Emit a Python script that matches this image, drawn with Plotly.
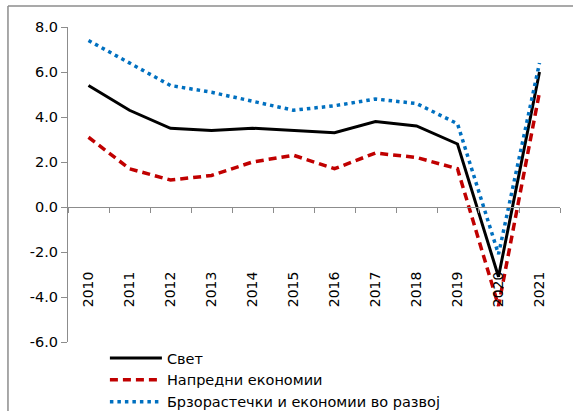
import plotly.graph_objects as go

years = ["2010", "2011", "2012", "2013", "2014", "2015", "2016", "2017", "2018", "2019", "2020", "2021"]
world = [5.4, 4.3, 3.5, 3.4, 3.5, 3.4, 3.3, 3.8, 3.6, 2.8, -3.1, 6.0]
advanced = [3.1, 1.7, 1.2, 1.4, 2.0, 2.3, 1.7, 2.4, 2.2, 1.7, -4.4, 5.1]
emerging = [7.4, 6.4, 5.4, 5.1, 4.7, 4.3, 4.5, 4.8, 4.6, 3.7, -2.1, 6.4]
names = ["Свет", "Напредни економии", "Брзорастечки и економии во развој"]
y_ticks = [-6, -4, -2, 0, 2, 4, 6, 8]
y_tick_text = ["-6.0", "-4.0", "-2.0", "0.0", "2.0", "4.0", "6.0", "8.0"]

FONT = "DejaVu Sans"
GRAY = "#8c8c8c"

fig = go.Figure()
fig.add_trace(go.Scatter(x=years, y=world, name=names[0], mode="lines",
                         line=dict(color="#000000", width=3)))
fig.add_trace(go.Scatter(x=years, y=advanced, name=names[1], mode="lines",
                         line=dict(color="#C00000", width=3.5, dash="8px,5px")))
fig.add_trace(go.Scatter(x=years, y=emerging, name=names[2], mode="lines",
                         line=dict(color="#0070C0", width=3.5, dash="3.5px,4px")))

fig.update_layout(
    width=573, height=411,
    margin=dict(l=68, r=13, t=27, b=69, autoexpand=False),
    paper_bgcolor="white", plot_bgcolor="white",
    font=dict(family=FONT, size=14, color="#000000"),
    showlegend=True,
    legend=dict(x=0.075, y=0.0, xanchor="left", yanchor="top",
                bgcolor="rgba(0,0,0,0)", font=dict(size=14.5, family=FONT),
                tracegroupgap=0, itemwidth=52),
    xaxis=dict(type="category", range=[-0.5, 11.5], anchor="free", position=6/14,
               automargin=False,
               showline=True, linecolor=GRAY, linewidth=1, showgrid=False,
               ticks="outside", ticklen=5, tickcolor=GRAY, tickson="boundaries",
               tickangle=-90, ticklabelstandoff=58,
               tickfont=dict(size=14, family=FONT)),
    yaxis=dict(range=[-6, 8], domain=[0, 1], tickvals=y_ticks, ticktext=y_tick_text,
               automargin=False,
               showline=True, linecolor=GRAY, linewidth=1, showgrid=False,
               zeroline=False, ticks="outside", ticklen=6, tickcolor=GRAY,
               tickfont=dict(size=14.5, family=FONT)),
    shapes=[
        dict(type="line", xref="paper", yref="paper", x0=-0.122, x1=1.1, y0=1.0667, y1=1.0667,
             line=dict(color=GRAY, width=1.5)),
        dict(type="line", xref="paper", yref="paper", x0=-0.122, x1=-0.122, y0=-0.4, y1=1.0667,
             line=dict(color=GRAY, width=1.5)),
    ],
)

fig.write_html("out.html", config={"displayModeBar": False},
               post_script="document.body.style.margin='0px';")
